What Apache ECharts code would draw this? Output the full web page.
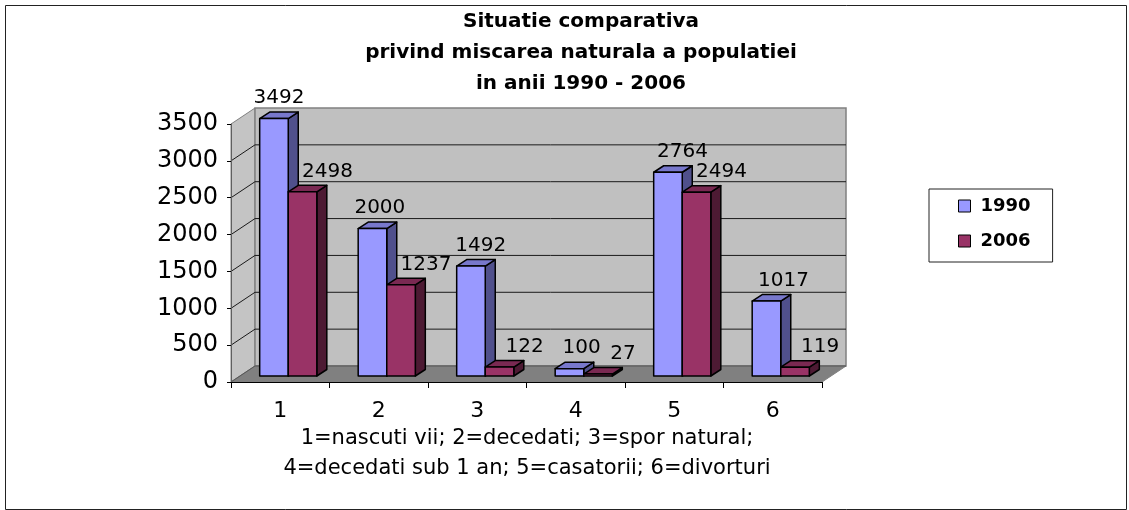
<!DOCTYPE html>
<html>
<head>
<meta charset="utf-8">
<script src="https://cdn.jsdelivr.net/npm/echarts@6/dist/echarts.min.js"></script>
<style>
  html, body { margin: 0; padding: 0; background: #fff; }
  #chart { width: 1129px; height: 510px; }
</style>
</head>
<body>
<div id="chart"></div>
<script>
// data
var categories = ['1', '2', '3', '4', '5', '6'];
var years = ['1990', '2006'];
var values1990 = [3492, 2000, 1492, 100, 2764, 1017];
var values2006 = [2498, 1237, 122, 27, 2494, 119];
var yTicks = [0, 500, 1000, 1500, 2000, 2500, 3000, 3500];
var titleLines = ['Situatie comparativa', 'privind miscarea naturala a populatiei', 'in anii 1990 - 2006'];
var noteLines = ['1=nascuti vii; 2=decedati; 3=spor natural;', '4=decedati sub 1 an; 5=casatorii; 6=divorturi'];

var FONT = 'DejaVu Sans';
// fake 3d offsets in px
var WALL = [24, -16];
var PLANE = [8, -6];
var DEPTH = [10, -6.5];

var colors = {
  '1990': {front: '#9999FF', side: '#50508C', top: '#7878CC'},
  '2006': {front: '#993366', side: '#4D1A33', top: '#7A2952'}
};

function renderWalls(params, api) {
  var cs = params.coordSys;
  var x0 = cs.x, y0 = cs.y, x1 = cs.x + cs.width, y1 = cs.y + cs.height;
  var dx = WALL[0], dy = WALL[1];
  var kids = [];
  kids.push({type: 'polygon', shape: {points: [[x0, y1], [x0, y0], [x0 + dx, y0 + dy], [x0 + dx, y1 + dy]]},
    style: {fill: '#C4C4C4', stroke: '#808080', lineWidth: 1}});
  kids.push({type: 'rect', shape: {x: x0 + dx, y: y0 + dy, width: cs.width, height: cs.height},
    style: {fill: '#C0C0C0', stroke: '#808080', lineWidth: 1.5}});
  kids.push({type: 'polygon', shape: {points: [[x0, y1], [x1, y1], [x1 + dx, y1 + dy], [x0 + dx, y1 + dy]]},
    style: {fill: '#808080', stroke: '#808080', lineWidth: 1}});
  yTicks.forEach(function (v) {
    if (v === yTicks[yTicks.length - 1]) return;
    var y = api.coord([0, v])[1];
    kids.push({type: 'polyline', shape: {points: [[x0, y], [x0 + dx, y + dy], [x1 + dx, y + dy]]},
      style: {stroke: v === 0 ? '#555' : '#1a1a1a', lineWidth: 1, fill: null}});
  });
  return {type: 'group', children: kids};
}

function barRenderer(s) {
  return function (params, api) {
    var i = api.value(0), v = api.value(1);
    var base = api.coord([i, 0]);
    var top = api.coord([i, v]);
    var band = api.size([1, 0])[0];
    var w = band * 0.29;
    var left = base[0] - w + PLANE[0] + s * w;
    var right = left + w;
    var yb = base[1] + PLANE[1];
    var yt = top[1] + PLANE[1];
    var dx = DEPTH[0], dy = DEPTH[1];
    var c = colors[years[s]];
    var line = {stroke: '#000', lineWidth: 1.5, lineJoin: 'round'};
    var shift = s === 0 ? 5 + 2.4 * i : 25;
    return {
      type: 'group',
      children: [
        {type: 'polygon', shape: {points: [[right, yt], [right + dx, yt + dy], [right + dx, yb + dy], [right, yb]]},
          style: Object.assign({fill: c.side}, line)},
        {type: 'polygon', shape: {points: [[left, yt], [left + dx, yt + dy], [right + dx, yt + dy], [right, yt]]},
          style: Object.assign({fill: c.top}, line)},
        {type: 'rect', shape: {x: left, y: yt, width: w, height: yb - yt},
          style: Object.assign({fill: c.front}, line)},
        {type: 'text', style: {text: String(v), x: (left + right) / 2 + shift, y: yt + dy - 4,
          align: 'center', verticalAlign: 'bottom', font: '20px "' + FONT + '"', fill: '#000'}}
      ]
    };
  };
}

var chart = echarts.init(document.getElementById('chart'));

chart.setOption({
  backgroundColor: '#fff',
  animation: false,
  title: [{
    text: titleLines.join('\n'),
    left: 581, top: 6, padding: 0, textAlign: 'center',
    textStyle: {fontFamily: FONT, fontSize: 20, fontWeight: 'bold', lineHeight: 31, color: '#000'}
  }, {
    text: noteLines.join('\n'),
    left: 527, top: 424, padding: 0, textAlign: 'center',
    textStyle: {fontFamily: FONT, fontSize: 21, fontWeight: 'normal', lineHeight: 30, color: '#000'}
  }],
  legend: {
    orient: 'vertical', left: 929, top: 189,
    padding: [7, 22, 11, 29], itemGap: 15, itemWidth: 12, itemHeight: 12,
    borderColor: '#222', borderWidth: 1,
    textStyle: {fontFamily: FONT, fontSize: 18, fontWeight: 'bold', color: '#000', lineHeight: 20, padding: [0, 0, 0, 5]},
    data: years.map(function (y) {
      return {name: y, icon: 'rect', itemStyle: {color: colors[y].front, borderColor: '#000', borderWidth: 1}};
    })
  },
  grid: {left: 231, top: 124, width: 591, height: 258, containLabel: false},
  xAxis: {
    type: 'category', data: categories, boundaryGap: true, z: 5,
    axisLine: {lineStyle: {color: '#000', width: 1}},
    axisTick: {show: true, length: 6, lineStyle: {color: '#000'}},
    axisLabel: {fontFamily: FONT, fontSize: 22, lineHeight: 22, margin: 18, color: '#000'},
    splitLine: {show: false}
  },
  yAxis: {
    type: 'value', min: 0, max: 3500, interval: 500, z: 5,
    axisLine: {show: true, lineStyle: {color: '#606060', width: 1}},
    axisTick: {show: true, length: 4, lineStyle: {color: '#000'}},
    axisLabel: {fontFamily: FONT, fontSize: 24, margin: 13, color: '#000',
      formatter: function (v) { return String(v); }},
    splitLine: {show: false}
  },
  graphic: [{
    type: 'rect', left: 3, top: 3, z: 10,
    shape: {width: 1121, height: 504},
    style: {fill: null, stroke: '#222', lineWidth: 1}
  }],
  series: [{
    type: 'custom', name: 'walls', z: 1, silent: true,
    renderItem: renderWalls, data: [[0, 0]], encode: {x: 0, y: 1}
  }, {
    type: 'custom', name: '1990', z: 2,
    itemStyle: {color: colors['1990'].front},
    renderItem: barRenderer(0),
    encode: {x: 0, y: 1},
    data: values1990.map(function (v, i) { return [i, v]; })
  }, {
    type: 'custom', name: '2006', z: 3,
    itemStyle: {color: colors['2006'].front},
    renderItem: barRenderer(1),
    encode: {x: 0, y: 1},
    data: values2006.map(function (v, i) { return [i, v]; })
  }]
});
</script>
</body>
</html>
